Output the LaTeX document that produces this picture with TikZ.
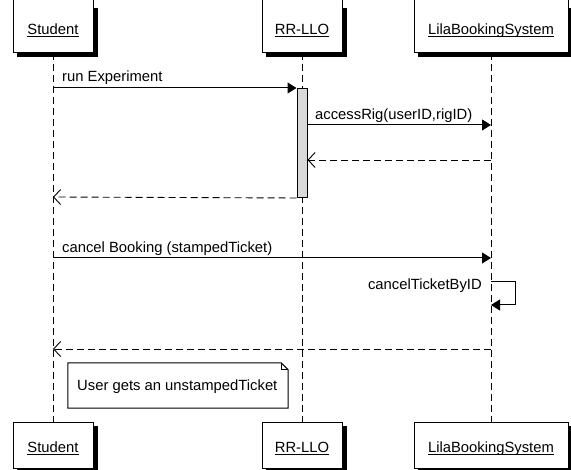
\documentclass[tikz,border=0pt]{standalone}
\usepackage{fontspec}
\setmainfont{Liberation Sans}
\usetikzlibrary{arrows.meta, calc}

\newcommand{\ulname}[1]{\underline{\smash{#1}}}
% shadow strip at right and bottom of a head box
\newcommand{\headshadow}[2]{%
  \fill[black] ($(#1.north east)+(0,#2)$) rectangle ($(#1.south east)+(4,4)$);
  \fill[black] ($(#1.south west)+(4,0)$) rectangle ($(#1.south east)+(4,4)$);
}

\tikzset{
  head/.style={draw=black, fill=white, line width=1pt, inner xsep=0pt, inner ysep=0pt},
  lifeline/.style={line width=1pt, dash pattern=on 7pt off 4pt},
  msg/.style={line width=1pt, -{Triangle[length=9pt,width=11pt]}},
  ret/.style={line width=0.9pt, dash pattern=on 7pt off 4pt, -{Straight Barb[length=7pt,width=15pt,line width=0.9pt]}},
  act/.style={draw=black, fill=black!15, line width=1pt, inner sep=0pt},
  lbl/.style={anchor=base west, inner sep=0pt}
}

\begin{document}
\begin{tikzpicture}[x=1pt, y=-1pt, font=\fontsize{14.8}{17}\selectfont]
	\useasboundingbox (0,0) rectangle (571,470);

	% heads
	\node[head, anchor=south, minimum width=80pt, text height=37pt, text depth=18pt] (stuTop) at (53,53) {\ulname{Student}};
	\node[head, anchor=south, minimum width=80pt, text height=37pt, text depth=18pt] (rrTop) at (302,53) {\ulname{RR-LLO}};
	\node[head, anchor=south, minimum width=154pt, text height=37pt, text depth=18pt] (lilaTop) at (491,53) {\ulname{LilaBookingSystem}};

	\node[head, anchor=north, minimum width=80pt, text height=30pt, text depth=16pt] (stuBot) at (53,422) {\ulname{Student}};
	\node[head, anchor=north, minimum width=80pt, text height=30pt, text depth=16pt] (rrBot) at (302,422) {\ulname{RR-LLO}};
	\node[head, anchor=north, minimum width=154pt, text height=30pt, text depth=16pt] (lilaBot) at (491,422) {\ulname{LilaBookingSystem}};

	\headshadow{stuTop}{11}
	\headshadow{rrTop}{11}
	\headshadow{lilaTop}{11}
	\headshadow{stuBot}{4}
	\headshadow{rrBot}{4}
	\headshadow{lilaBot}{4}

	% lifelines
	\draw[lifeline] (stuTop.south) -- (stuBot.north);
	\draw[lifeline] (rrTop.south) -- (rrBot.north);
	\draw[lifeline] (lilaTop.south) -- (lilaBot.north);

	\node[act, anchor=north, minimum width=10pt, minimum height=109pt] (act) at (302,88) {};

	\coordinate (run) at (stuTop.south |- 0,88);
	\coordinate (rigIn) at (lilaTop.south |- 0,125);
	\coordinate (rigOut) at (lilaTop.south |- 0,160);
	\coordinate (back) at (stuTop.south |- 0,197);
	\coordinate (cancel) at (stuTop.south |- 0,258);
	\coordinate (cancelIn) at (lilaTop.south |- 0,258);
	\coordinate (self) at (lilaTop.south |- 0,282);
	\coordinate (done) at (lilaTop.south |- 0,349);
	\coordinate (doneIn) at (stuTop.south |- 0,349);

	% messages
	\draw[msg] (run) -- (act.north west);
	\node[lbl] (runLbl) at (62,82) {run Experiment};

	\draw[msg] (act.east |- rigIn) -- (rigIn);
	\node[lbl] (rigLbl) at (315,120) {accessRig(userID,rigID)};
	\draw[ret] (rigOut) -- (act.east |- rigOut);
	\draw[ret] (act.south west) -- (back);

	\draw[msg] (cancel) -- (cancelIn);
	\node[lbl] (cancelLbl) at (62,253) {cancel Booking (stampedTicket)};

	\draw[msg] (self) -- ++(24,0) -- ++(0,23) -- ++(-24,0);
	\node[anchor=base east, inner sep=0pt] (selfLbl) at (482,290) {cancelTicketByID};

	\draw[ret] (done) -- (doneIn);

	% note
	\node[minimum width=220pt, minimum height=45pt, inner sep=0pt] (note) at (178,385.5) {};
	\draw[line width=1pt, fill=white] (note.north west) -- ($(note.north east)+(-7,0)$) -- ($(note.north east)+(0,7)$) -- (note.south east) -- (note.south west) -- cycle;
	\draw[line width=0.8pt] ($(note.north east)+(-7,0)$) -- ($(note.north east)+(-7,7)$) -- ($(note.north east)+(0,7)$);
	\node[lbl] (noteTxt) at (77,391) {User gets an unstampedTicket};

\end{tikzpicture}
\end{document}
